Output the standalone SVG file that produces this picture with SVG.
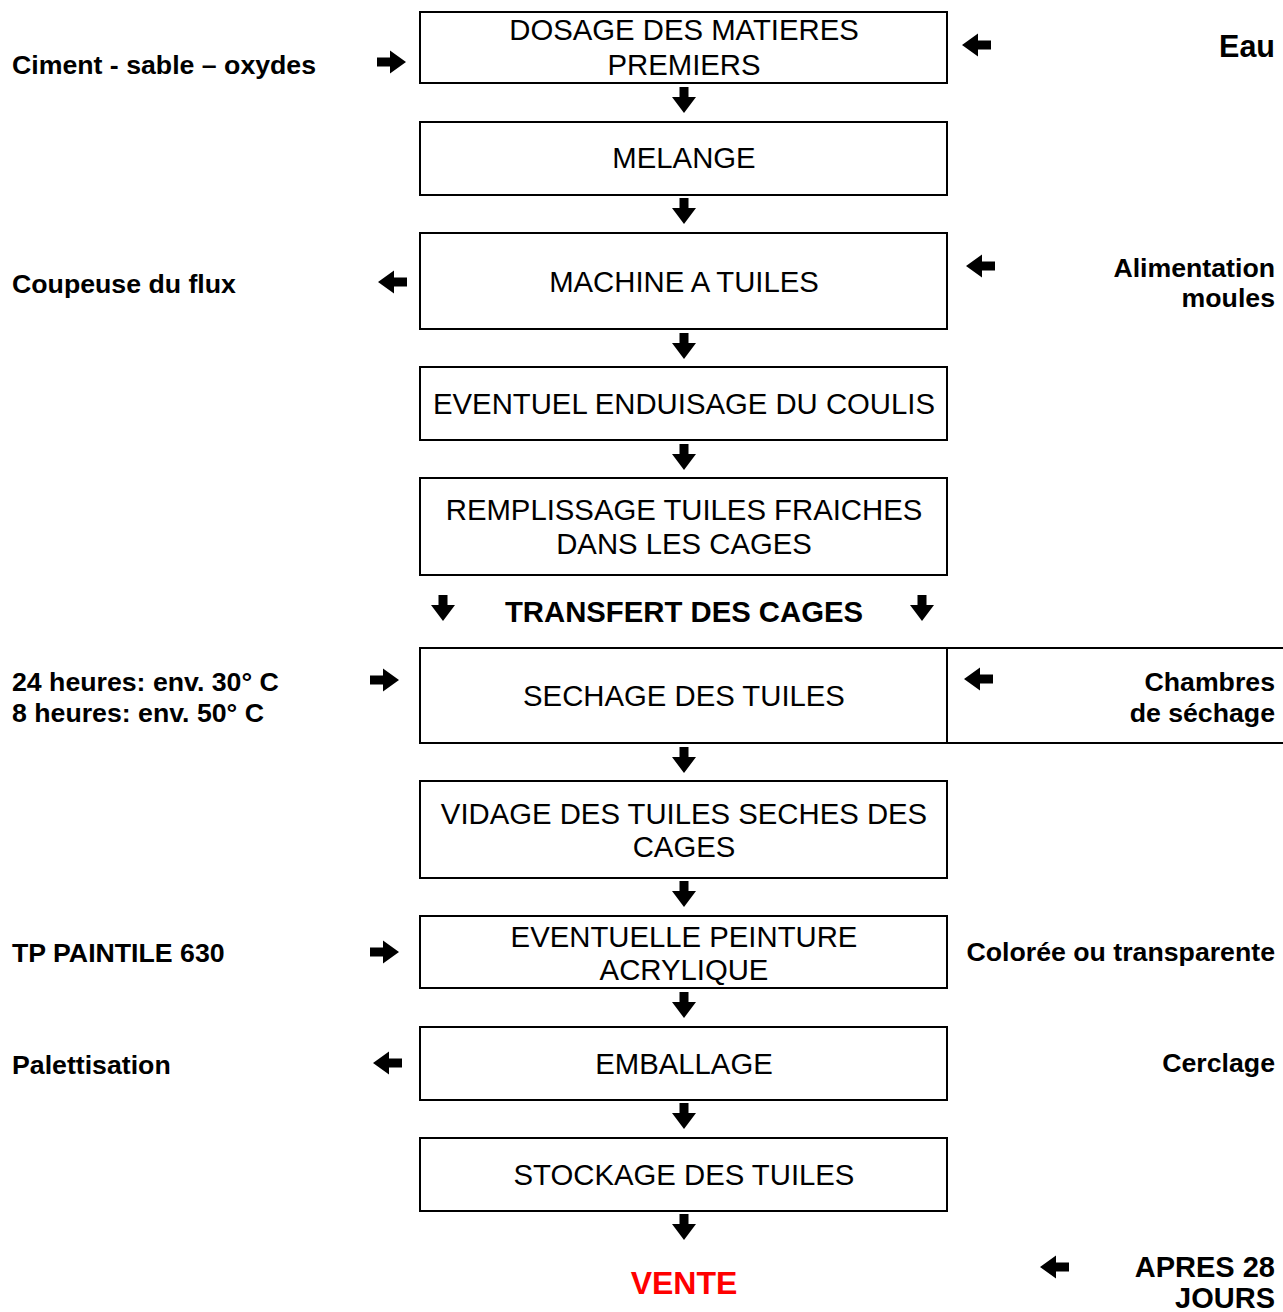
<svg xmlns="http://www.w3.org/2000/svg" xmlns:xlink="http://www.w3.org/1999/xlink" width="1283" height="1312" viewBox="0 0 1283 1312">
<style>
.box{fill:#fff;stroke:#000;stroke-width:2}
.ln{stroke:#000;stroke-width:2;fill:none}
.t{font-family:"Liberation Sans",Arial,sans-serif;font-size:29.3px;fill:#000;text-anchor:middle}
.b{font-family:"Liberation Sans",Arial,sans-serif;font-size:26.7px;font-weight:bold;fill:#000}
.r{text-anchor:end}
.ar{fill:#000}
</style>
<defs>
<path id="dn" d="M-4.5,0 H4.5 V10 H12 L0,26 L-12,10 H-4.5 Z"/>
<path id="rt" d="M0,-4.5 H13 V-11.5 L29,0 L13,11.5 V4.5 H0 Z"/>
<path id="lt" d="M29,-4.5 H16 V-11.5 L0,0 L16,11.5 V4.5 H29 Z"/>
</defs>
<rect width="1283" height="1312" fill="#fff"/>

<g id="n1"><rect class="box" x="420" y="12" width="527" height="71"/><text class="t" x="684" y="40">DOSAGE DES MATIERES</text><text class="t" x="684" y="75">PREMIERS</text></g>
<g id="n2"><rect class="box" x="420" y="122" width="527" height="73"/><text class="t" x="684" y="168">MELANGE</text></g>
<g id="n3"><rect class="box" x="420" y="233" width="527" height="96"/><text class="t" x="684" y="292">MACHINE A TUILES</text></g>
<g id="n4"><rect class="box" x="420" y="367" width="527" height="73"/><text class="t" x="684" y="414">EVENTUEL ENDUISAGE DU COULIS</text></g>
<g id="n5"><rect class="box" x="420" y="478" width="527" height="97"/><text class="t" x="684" y="520">REMPLISSAGE TUILES FRAICHES</text><text class="t" x="684" y="554">DANS LES CAGES</text></g>
<g id="n6"><rect class="box" x="420" y="648" width="527" height="95"/><line class="ln" x1="947" y1="648" x2="1283" y2="648"/><line class="ln" x1="947" y1="743" x2="1283" y2="743"/><text class="t" x="684" y="706">SECHAGE DES TUILES</text></g>
<g id="n7"><rect class="box" x="420" y="781" width="527" height="97"/><text class="t" x="684" y="824">VIDAGE DES TUILES SECHES DES</text><text class="t" x="684" y="857">CAGES</text></g>
<g id="n8"><rect class="box" x="420" y="916" width="527" height="72"/><text class="t" x="684" y="947">EVENTUELLE PEINTURE</text><text class="t" x="684" y="980">ACRYLIQUE</text></g>
<g id="n9"><rect class="box" x="420" y="1027" width="527" height="73"/><text class="t" x="684" y="1074">EMBALLAGE</text></g>
<g id="n10"><rect class="box" x="420" y="1138" width="527" height="73"/><text class="t" x="684" y="1185">STOCKAGE DES TUILES</text></g>

<g id="labels">
<text class="b" x="12" y="74">Ciment - sable – oxydes</text>
<text class="b r" x="1275" y="57" style="font-size:30.5px">Eau</text>
<text class="b" x="12" y="293">Coupeuse du flux</text>
<text class="b r" x="1275" y="277">Alimentation</text>
<text class="b r" x="1275" y="307">moules</text>
<text class="b" x="684" y="622" style="font-size:29.3px;text-anchor:middle">TRANSFERT DES CAGES</text>
<text class="b" x="12" y="691">24 heures: env. 30° C</text>
<text class="b" x="12" y="722">8 heures: env. 50° C</text>
<text class="b r" x="1275" y="691">Chambres</text>
<text class="b r" x="1275" y="722">de séchage</text>
<text class="b" x="12" y="962">TP PAINTILE 630</text>
<text class="b r" x="1275" y="961">Colorée ou transparente</text>
<text class="b" x="12" y="1074">Palettisation</text>
<text class="b r" x="1275" y="1072">Cerclage</text>
<text class="b" x="684" y="1294" style="font-size:32px;text-anchor:middle;fill:#ff0000">VENTE</text>
<text class="b r" x="1275" y="1277" style="font-size:29px">APRES 28</text>
<text class="b r" x="1275" y="1308" style="font-size:29px">JOURS</text>
</g>

<g id="connectors" class="ar">
<use xlink:href="#dn" x="684" y="87"/>
<use xlink:href="#dn" x="684" y="198"/>
<use xlink:href="#dn" x="684" y="333"/>
<use xlink:href="#dn" x="684" y="444"/>
<use xlink:href="#dn" x="443" y="595"/>
<use xlink:href="#dn" x="922" y="595"/>
<use xlink:href="#dn" x="684" y="747"/>
<use xlink:href="#dn" x="684" y="881"/>
<use xlink:href="#dn" x="684" y="992"/>
<use xlink:href="#dn" x="684" y="1103"/>
<use xlink:href="#dn" x="684" y="1214"/>
<use xlink:href="#rt" x="377" y="62"/>
<use xlink:href="#rt" x="370" y="680"/>
<use xlink:href="#rt" x="370" y="952"/>
<use xlink:href="#lt" x="378" y="282"/>
<use xlink:href="#lt" x="373" y="1063"/>
<use xlink:href="#lt" x="962" y="45"/>
<use xlink:href="#lt" x="966" y="266"/>
<use xlink:href="#lt" x="964" y="679"/>
<use xlink:href="#lt" x="1040" y="1267"/>
</g>
</svg>
